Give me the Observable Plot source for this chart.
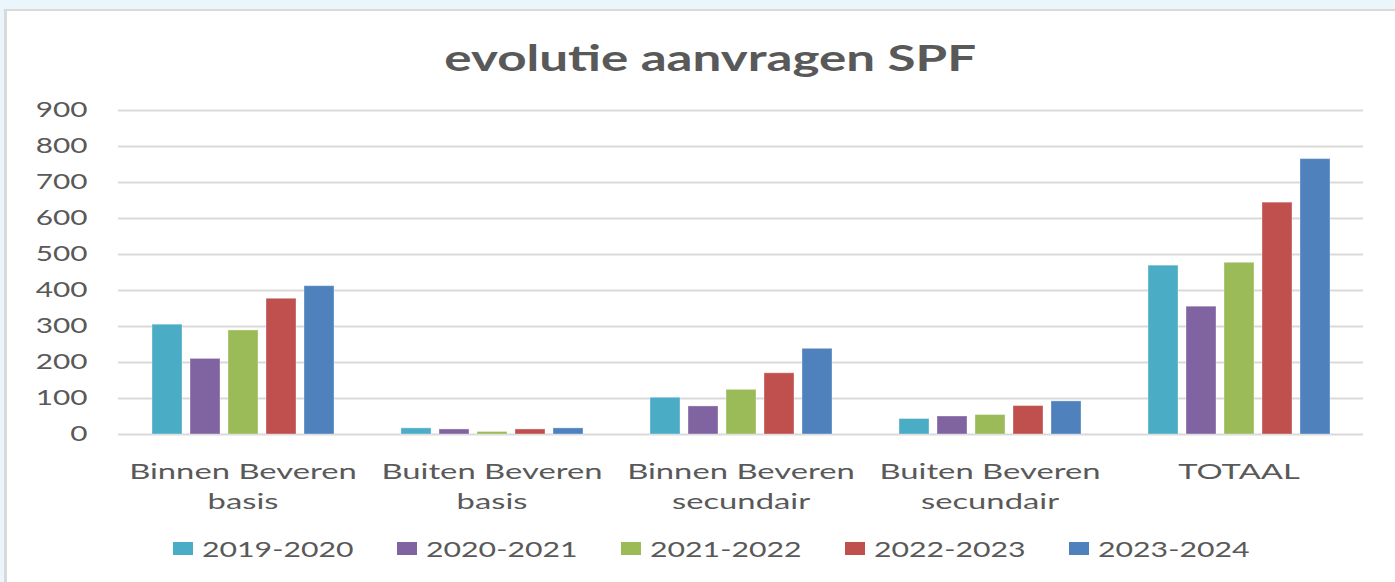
<!DOCTYPE html>
<html><head><meta charset="utf-8">
<script src="https://cdn.jsdelivr.net/npm/d3@7"></script>
<script src="https://cdn.jsdelivr.net/npm/@observablehq/plot@0.6"></script>
<style>
body{margin:0;background:#EBF5FC;width:1395px;height:582px;overflow:hidden;font-family:Lato,sans-serif;}
#frame{position:absolute;left:4px;top:9px;width:1420px;height:600px;background:#fff;border-left:3px solid #d9d9d9;border-top:2px solid #d9d9d9;}
#title{position:absolute;left:0;top:28px;width:1406px;text-align:center;font-size:36px;font-weight:700;color:#595959;line-height:36px;white-space:nowrap;}
#title span{display:inline-block;transform:scaleX(1.42);}
#chart{position:absolute;left:0;top:74px;}
#legend{position:absolute;left:166px;top:515px;height:44px;display:flex;align-items:center;}
.item{width:224px;display:flex;align-items:center;}
.sw{width:20px;height:13px;margin-right:9px;flex:none;}
.lab{font-size:21px;color:#595959;display:inline-block;transform:scaleX(1.44);transform-origin:left center;white-space:nowrap;}
</style></head><body>
<div id="frame"><div id="title"><span></span></div><div id="chart"></div><div id="legend"></div></div>
<script>
const titleText = "evolutie aanvragen SPF";
const categories = ["Binnen Beveren basis", "Buiten Beveren basis", "Binnen Beveren secundair", "Buiten Beveren secundair", "TOTAAL"];
const tickLabels = ["Binnen Beveren\nbasis", "Buiten Beveren\nbasis", "Binnen Beveren\nsecundair", "Buiten Beveren\nsecundair", "TOTAAL"];
const years = ["2019-2020", "2020-2021", "2021-2022", "2022-2023", "2023-2024"];
const v2019_2020 = [305, 17, 102, 43, 469];
const v2020_2021 = [210, 14, 78, 50, 355];
const v2021_2022 = [289, 7, 124, 54, 477];
const v2022_2023 = [377, 14, 170, 79, 644];
const v2023_2024 = [412, 17, 238, 92, 765];
const colors = ["#4BACC6", "#8064A2", "#9BBB59", "#C0504D", "#4F81BD"];
const yTicks = [0, 100, 200, 300, 400, 500, 600, 700, 800, 900];

const series = [v2019_2020, v2020_2021, v2021_2022, v2022_2023, v2023_2024];
const data = categories.flatMap((c, i) => years.map((yr, j) => ({cat: c, year: yr, value: series[j][i]})));

document.querySelector("#title span").textContent = titleText;

const chart = Plot.plot({
  width: 1388, height: 440,
  marginLeft: 109, marginRight: 30, marginTop: 25, marginBottom: 91,
  style: {fontFamily: "Lato, sans-serif", color: "#595959", background: "transparent", overflow: "visible"},
  fx: {domain: categories, padding: 0, label: null, axis: null},
  x: {domain: years, paddingInner: 0.216, paddingOuter: 0.876, axis: null},
  y: {domain: [0, 900], label: null, axis: null},
  color: {domain: years, range: colors},
  marks: [
    Plot.gridY(yTicks, {stroke: "#d9d9d9", strokeOpacity: 1, strokeWidth: 2}),
    Plot.barY(data, {fx: "cat", x: "year", y: "value", fill: "year", stroke: "white", strokeOpacity: 0.35, strokeWidth: 1}),
    Plot.axisY(yTicks, {tickSize: 0, tickPadding: 31, fontSize: 21, fill: "#595959", label: null}),
    Plot.axisFx({anchor: "bottom", tickSize: 0, tickPadding: 23, fontSize: 22, lineHeight: 1.36, fill: "#595959", label: null,
      tickFormat: d => tickLabels[categories.indexOf(d)]})
  ]
});

const isNum = s => s != null && /^\s*-?\d*\.?\d+\s*$/.test(s);
function stretch(sel, k) {
  chart.querySelectorAll(sel).forEach(t => {
    let x = 0, y = 0;
    const ax = t.getAttribute("x"), ay = t.getAttribute("y");
    if (isNum(ax)) { x = +ax; t.removeAttribute("x"); }
    if (isNum(ay)) { y = +ay; t.removeAttribute("y"); }
    if (x !== 0) t.querySelectorAll("tspan").forEach(s => { if (isNum(s.getAttribute("x"))) s.setAttribute("x", +s.getAttribute("x") - x); });
    const tr = t.getAttribute("transform") || "";
    t.setAttribute("transform", `${tr} translate(${x},${y}) scale(${k},1)`);
  });
}
stretch('g[aria-label="y-axis tick label"] text', 1.42);
stretch('g[aria-label="fx-axis tick label"] text', 1.49);
document.getElementById("chart").appendChild(chart);

const legend = document.getElementById("legend");
years.forEach((yr, j) => {
  const it = document.createElement("div"); it.className = "item";
  const sw = document.createElement("div"); sw.className = "sw"; sw.style.background = colors[j];
  const lb = document.createElement("span"); lb.className = "lab"; lb.textContent = yr;
  it.appendChild(sw); it.appendChild(lb); legend.appendChild(it);
});
</script>
</body></html>
